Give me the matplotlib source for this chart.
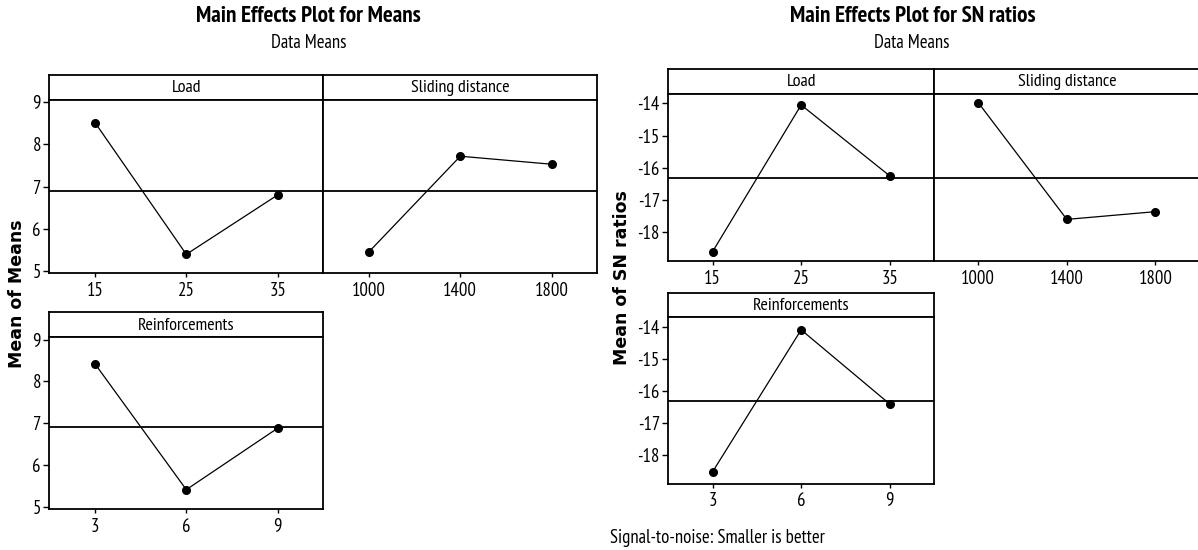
import numpy as np
import matplotlib.pyplot as plt

W, H = 1198, 550

load_levels = ["15", "25", "35"]
slide_levels = ["1000", "1400", "1800"]
reinf_levels = ["3", "6", "9"]

means_load = [8.52, 5.39, 6.80]
means_slide = [5.45, 7.72, 7.53]
means_reinf = [8.42, 5.41, 6.88]

sn_load = [-18.60, -14.05, -16.25]
sn_slide = [-13.98, -17.60, -17.36]
sn_reinf = [-18.52, -14.10, -16.41]

means_ticks = [5, 6, 7, 8, 9]
sn_ticks = [-18, -17, -16, -15, -14]

NARROW = ["PT Sans Narrow", "Roboto Condensed", "DejaVu Sans"]

fig = plt.figure(figsize=(W / 100, H / 100), dpi=100)


def px_axes(x0, y0, x1, y1):
    return fig.add_axes([x0 / W, 1 - y1 / H, (x1 - x0) / W, (y1 - y0) / H])


def panel(x0, x1, ys, ye, strip_h, label, levels, vals, grand, ylim, yticks, show_y):
    # strip with the factor name
    st = px_axes(x0, ys - strip_h, x1, ys)
    st.set_xticks([])
    st.set_yticks([])
    for s in st.spines.values():
        s.set_linewidth(1.3)
    st.text(0.5, 0.47, label, ha="center", va="center", fontsize=13,
            family=NARROW, transform=st.transAxes)

    ax = px_axes(x0, ys, x1, ye)
    x = np.arange(len(levels))
    ax.axhline(grand, color="black", lw=1.3)
    ax.plot(x, vals, color="black", lw=0.9, marker="o", ms=5.5)
    ax.set_xlim(-0.5, len(levels) - 0.5)
    ax.set_ylim(*ylim)
    ax.set_xticks(x)
    ax.set_xticklabels(levels, family=NARROW, fontsize=13.5)
    ax.tick_params(axis="x", direction="out", length=3, width=1, pad=3)
    if show_y:
        ax.set_yticks(yticks)
        ax.set_yticklabels([str(t) for t in yticks], family=NARROW, fontsize=13.5)
        ax.tick_params(axis="y", direction="out", length=4, width=1, pad=2)
    else:
        ax.set_yticks([])
    for s in ax.spines.values():
        s.set_linewidth(1.3)
    return ax


# ---- left: means
grand_m = np.mean(means_load + means_slide + means_reinf)
ylim_m = (4.94, 9.055)
panel(49.3, 323.3, 100, 273.3, 25, "Load", load_levels, means_load,
      grand_m, ylim_m, means_ticks, True)
panel(323.3, 597.3, 100, 273.3, 25, "Sliding distance", slide_levels, means_slide,
      grand_m, ylim_m, means_ticks, False)
panel(49.3, 323.3, 337.3, 509.3, 25, "Reinforcements", reinf_levels, means_reinf,
      grand_m, ylim_m, means_ticks, True)

# ---- right: SN ratios
grand_sn = np.mean(sn_load + sn_slide + sn_reinf)
ylim_sn = (-18.9, -13.71)
panel(668.3, 934, 94, 261.3, 24.7, "Load", load_levels, sn_load,
      grand_sn, ylim_sn, sn_ticks, True)
panel(934, 1199.7, 94, 261.3, 24.7, "Sliding distance", slide_levels, sn_slide,
      grand_sn, ylim_sn, sn_ticks, False)
panel(668.3, 934, 317.3, 484, 24, "Reinforcements", reinf_levels, sn_reinf,
      grand_sn, ylim_sn, sn_ticks, True)

# titles and labels
fig.text(308 / W, 1 - 17 / H, "Main Effects Plot for Means", ha="center", va="center",
         fontsize=16.7, fontweight="bold", family=NARROW)
fig.text(309 / W, 1 - 43 / H, "Data Means", ha="center", va="center",
         fontsize=13.5, family=NARROW)
fig.text(913 / W, 1 - 17 / H, "Main Effects Plot for SN ratios", ha="center", va="center",
         fontsize=16.7, fontweight="bold", family=NARROW)
fig.text(912 / W, 1 - 43 / H, "Data Means", ha="center", va="center",
         fontsize=13.5, family=NARROW)

fig.text(17 / W, 1 - 294 / H, "Mean of Means", rotation=90, ha="center", va="center",
         fontsize=12.5, fontweight="bold", family="DejaVu Sans")
fig.text(622 / W, 1 - 278 / H, "Mean of SN ratios", rotation=90, ha="center", va="center",
         fontsize=12.5, fontweight="bold", family="DejaVu Sans")

fig.text(610 / W, 1 - 538 / H, "Signal-to-noise: Smaller is better", ha="left", va="center",
         fontsize=13.5, family=NARROW)

fig.savefig("out.png", dpi=100)
